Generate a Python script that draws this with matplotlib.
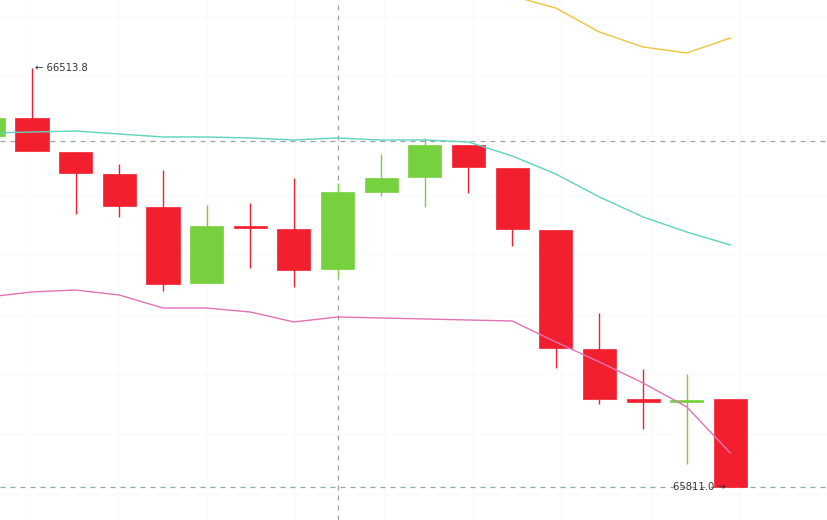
import matplotlib
matplotlib.use("Agg")
import matplotlib.pyplot as plt
import numpy as np

# ---- data ----
idx = list(range(18))
opens  = [66399.7, 66429.9, 66372.9, 66336.0, 66280.6, 66153.2, 66248.8, 66243.8, 66176.6,
          66305.8, 66331.0, 66384.6, 66346.0, 66242.1, 66042.5, 65958.6, 65953.6, 65958.6]
highs  = [66432.0, 66513.8, 66372.9, 66352.8, 66342.7, 66284.0, 66287.4, 66329.3, 66320.9,
          66369.6, 66396.4, 66384.6, 66346.0, 66242.1, 66102.9, 66009.0, 66000.5, 65958.6]
lows   = [66398.0, 66374.6, 66268.9, 66263.9, 66139.8, 66153.2, 66178.3, 66146.5, 66163.2,
          66299.1, 66280.6, 66304.1, 66215.2, 66010.6, 65950.2, 65908.3, 65849.6, 65811.0]
closes = [66429.9, 66374.6, 66337.7, 66282.3, 66151.5, 66248.8, 66245.4, 66174.9, 66305.8,
          66329.3, 66384.6, 66347.7, 66243.8, 66044.1, 65958.6, 65953.6, 65956.9, 65811.0]

band_mid   = [66404.8, 66406.4, 66408.1, 66403.1, 66398.1, 66398.1, 66396.4, 66393.0, 66396.4,
              66393.0, 66393.0, 66389.7, 66366.2, 66336.0, 66297.4, 66263.9, 66238.7, 66216.9]
band_lower = [66129.7, 66138.1, 66141.4, 66133.0, 66111.2, 66111.2, 66104.5, 66087.8, 66096.1,
              66094.5, 66092.8, 66091.1, 66089.4, 66054.2, 66020.7, 65985.4, 65945.2, 65868.0]
band_upper = [66679.9, 66674.7, 66674.8, 66673.2, 66685.0, 66685.0, 66688.3, 66698.2, 66696.7,
              66691.5, 66693.2, 66688.3, 66634.6, 66614.4, 66574.2, 66549.0, 66539.0, 66564.1]

max_label = "66513.8"
min_label = "65811.0"
max_idx, min_idx = 1, 17
crosshair_x = 8
crosshair_y = 66391.4

# ---- styling ----
RED = "#f2202f"
GREEN = "#77d13f"

fig = plt.figure(figsize=(8.28, 5.2), dpi=100)
ax = fig.add_axes([0, 0, 1, 1])
ax.set_facecolor("white")

# faint grid
for gx in [0.93, 2.97, 5.0, 7.03, 9.07, 11.1, 13.13, 15.17, 17.2]:
    ax.axvline(gx, color="#fafafa", lw=0.8, zorder=0)
for gy in [66600.0, 66500.0, 66400.0, 66300.0, 66200.0, 66100.0, 66000.0, 65900.0, 65800.0]:
    ax.axhline(gy, color="#fafafa", lw=0.8, zorder=0)

w = 0.76
for i, o, h, l, c in zip(idx, opens, highs, lows, closes):
    col = GREEN if c >= o else RED
    ax.vlines(i, l, h, color=col, lw=1.0, zorder=2)
    bottom = min(o, c)
    height = max(abs(c - o), 2.5)
    ax.bar(i, height, bottom=bottom, width=w, color=col, edgecolor=col, lw=0.5, zorder=3)

ax.plot(idx, band_mid, color="#5fd3bd", lw=1.0, zorder=4)
ax.plot(idx, band_lower, color="#e272b6", lw=1.0, zorder=4)
ax.plot(idx, band_upper, color="#eec33a", lw=1.0, zorder=4)

# crosshair
ax.axvline(crosshair_x, color="#a0a0a0", lw=0.9, ls=(0, (4, 4)), zorder=1)
ax.axhline(crosshair_y, color="#98a4a4", lw=0.9, ls=(0, (4, 4)), zorder=1)
ax.axhline(lows[min_idx], color="#8aaaa5", lw=0.9, ls=(0, (4, 4)), zorder=1)

ax.text(max_idx + 0.08, highs[max_idx], "\u2190 " + max_label, fontsize=7.2,
        color="#333333", va="center", ha="left", zorder=6)
ax.text(min_idx - 0.1, lows[min_idx], min_label + " \u2192", fontsize=7.2,
        color="#333333", va="center", ha="right", zorder=6)

ax.set_xlim(0.267, 19.236)
ax.set_ylim(65755.6, 66627.86)
ax.set_xticks([])
ax.set_yticks([])
for s in ax.spines.values():
    s.set_visible(False)

fig.savefig("out.png", dpi=100, facecolor="white")
